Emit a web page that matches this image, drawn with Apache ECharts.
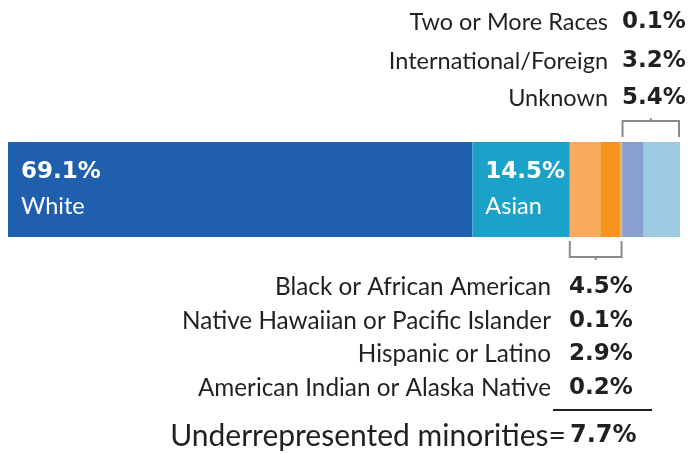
<!DOCTYPE html>
<html>
<head>
<meta charset="utf-8">
<script src="https://cdn.jsdelivr.net/npm/echarts@6/dist/echarts.min.js"></script>
<style>
  html, body { margin: 0; padding: 0; background: #fff; }
  #chart { width: 692px; height: 454px; }
</style>
</head>
<body>
<div id="chart"></div>
<script>
// data
const groups = [
  "White",
  "Asian",
  "Black or African American",
  "Native Hawaiian or Pacific Islander",
  "Hispanic or Latino",
  "American Indian or Alaska Native",
  "Two or More Races",
  "International/Foreign",
  "Unknown"
];
const shares = [69.1, 14.5, 4.5, 0.1, 2.9, 0.2, 0.1, 3.2, 5.4];
const insideGroups = ["White", "Asian"];
const topGroups = ["Two or More Races", "International/Foreign", "Unknown"];
const bottomGroups = [
  "Black or African American",
  "Native Hawaiian or Pacific Islander",
  "Hispanic or Latino",
  "American Indian or Alaska Native"
];
const urmLabel = "Underrepresented minorities=";
const urmTotal = 7.7;

const colors = [
  "#1f5fad", "#1aa2c8", "#f9aa5a", "#c9a82c", "#f7931e",
  "#f9aa5a", "#7d8fc6", "#8b9ed0", "#9dcae0"
];
const ink = "#231f20";
const font = "Lato";
const numFont = "DejaVu Sans";

const chart = echarts.init(document.getElementById("chart"));

const series = groups.map((g, i) => {
  const s = {
    name: g,
    type: "bar",
    stack: "all",
    barCategoryGap: "0%",
    data: [shares[i]],
    itemStyle: { color: colors[i] },
    emphasis: { disabled: true },
    silent: true
  };
  if (insideGroups.includes(g)) {
    s.label = {
      show: true,
      position: "insideLeft",
      distance: 13,
      formatter: () => `{v|${shares[i]}%}\n{n|${g}}`,
      rich: {
        v: { color: "#fff", fontFamily: numFont, fontWeight: "bold", fontSize: 23, lineHeight: 34 },
        n: { color: "#fff", fontFamily: font, fontSize: 23.5, lineHeight: 34 }
      }
    };
  }
  return s;
});

chart.setOption({
  animation: false,
  grid: { left: 8, right: 12, top: 142, bottom: 217 },
  xAxis: { type: "value", min: 0, max: 100, show: false },
  yAxis: { type: "category", data: ["share"], show: false },
  series: series
});

// helpers for the graphic layer
function cum(name) {
  let s = 0;
  for (let i = 0; i < groups.length; i++) {
    if (groups[i] === name) return s;
    s += shares[i];
  }
  return s;
}
function px(v) {
  return chart.convertToPixel({ gridIndex: 0 }, [v, 0])[0];
}
function share(name) {
  return shares[groups.indexOf(name)];
}
function txt(text, x, y, size, bold, align) {
  return {
    type: "text",
    silent: true,
    style: {
      text: text, x: x, y: y,
      fontFamily: bold ? numFont : font, fontSize: size,
      fontWeight: bold ? "bold" : "normal",
      fill: ink,
      align: align, textAlign: align,
      verticalAlign: "middle", textVerticalAlign: "middle"
    }
  };
}

const graphics = [];

// top labels
const topY = [22, 61, 98];
topGroups.forEach((g, i) => {
  graphics.push(txt(g, 608, topY[i], 23.5, false, "right"));
  graphics.push(txt(share(g).toFixed(1) + "%", 622, topY[i], 23, true, "left"));
});

// bottom labels
const botY = [287, 321, 354, 388];
bottomGroups.forEach((g, i) => {
  graphics.push(txt(g, 551, botY[i], 24.3, false, "right"));
  graphics.push(txt(share(g).toFixed(1) + "%", 569, botY[i], 23, true, "left"));
});

graphics.push(txt(urmLabel, 566, 436, 30, false, "right"));
graphics.push(txt(urmTotal.toFixed(1) + "%", 570, 436, 24, true, "left"));

// underline above total
graphics.push({
  type: "line", silent: true,
  shape: { x1: 553, y1: 410, x2: 652, y2: 410 },
  style: { stroke: ink, lineWidth: 2 }
});

// brackets tied to the stacked segments
const bracketStyle = { stroke: "#8a8a8a", lineWidth: 2, fill: null };
const tx1 = px(cum(topGroups[0])) + 1;
const tx2 = px(cum(topGroups[topGroups.length - 1]) + share(topGroups[topGroups.length - 1])) - 1;
graphics.push({
  type: "polyline", silent: true,
  shape: { points: [[tx1, 137], [tx1, 121], [tx2, 121], [tx2, 137]] },
  style: bracketStyle
});
graphics.push({
  type: "line", silent: true,
  shape: { x1: (tx1 + tx2) / 2, y1: 121, x2: (tx1 + tx2) / 2, y2: 118 },
  style: { stroke: "#8a8a8a", lineWidth: 2 }
});

const last = bottomGroups[bottomGroups.length - 1];
const bx1 = px(cum(bottomGroups[0]));
const bx2 = px(cum(last) + share(last));
graphics.push({
  type: "polyline", silent: true,
  shape: { points: [[bx1, 241], [bx1, 257], [bx2, 257], [bx2, 241]] },
  style: bracketStyle
});
graphics.push({
  type: "line", silent: true,
  shape: { x1: (bx1 + bx2) / 2, y1: 257, x2: (bx1 + bx2) / 2, y2: 260 },
  style: { stroke: "#8a8a8a", lineWidth: 2 }
});

chart.setOption({ graphic: graphics });
</script>
</body>
</html>
